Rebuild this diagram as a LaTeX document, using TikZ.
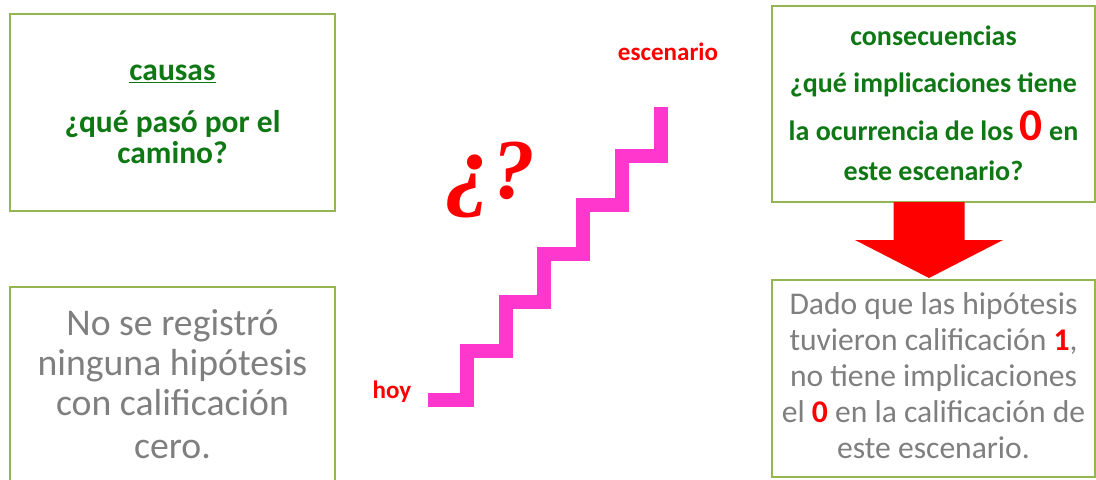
\documentclass[tikz,border=0pt]{standalone}
\usepackage{fontspec}
\setmainfont{Carlito}
\newfontfamily\markfont{Liberation Serif}
\usetikzlibrary{calc}
\definecolor{panelgreen}{RGB}{147,181,82}
\definecolor{textgreen}{RGB}{15,120,20}
\definecolor{textgray}{RGB}{127,127,127}
\definecolor{stairpink}{RGB}{255,55,205}

\begin{document}
\begin{tikzpicture}[x=0.75pt,y=-0.75pt,
  panel/.style={draw=panelgreen,line width=2.2pt,fill=white,outer sep=0pt,inner sep=0pt},
  asktext/.style={text=textgreen,font=\bfseries,align=center,inner sep=0pt},
  saytext/.style={text=textgray,align=center,inner sep=0pt},
  tag/.style={text=red,font=\bfseries\fontsize{18.8}{20}\selectfont,inner sep=0pt}]
  \clip (0,0) rectangle (1096,479);
  % left: causes
  \node[panel,minimum width=243.75pt,minimum height=147.75pt] (causas) at (172.5,112.5) {};
  \node[panel,minimum width=243.75pt,minimum height=156pt] (cero) at (172.5,391) {};
  \node[asktext,anchor=base,font=\bfseries\fontsize{23.6}{23.25}\selectfont] (causastxt) at (172.5,163)
    {\underline{causas}\\[15.75pt]¿qué pasó por el\\camino?};
  \node[saytext,anchor=base,font=\fontsize{28.3}{30}\selectfont] (cerotxt) at (172.5,458)
    {No se registró\\ninguna hipótesis\\con calificación\\[2pt]cero.};
  % middle: stairs
  \draw[stairpink,line width=10.5pt,line join=miter] (428,400)
    \foreach \i in {1,...,6} { -- ++(38.8,0) -- ++(0,-48.8) };
  \node[tag,anchor=base] (hoy) at (392,398) {hoy};
  \node[tag,anchor=base] (escenario) at (668,60) {escenario};
  \node[text=red,font=\markfont\bfseries\itshape\fontsize{64}{64}\selectfont,inner sep=0pt] (duda) at (490,180) {{\fontsize{70}{70}\selectfont¿}?};
  % right: consequences
  \node[panel,minimum width=242.25pt,minimum height=147pt] (conseq) at (933.5,104) {};
  \node[panel,minimum width=242.25pt,minimum height=147.75pt] (dado) at (933.5,378.5) {};
  \node[asktext,anchor=base,font=\bfseries\fontsize{21}{30}\selectfont] (conseqtxt) at (933.5,180)
    {consecuencias\\[5.25pt]¿qué implicaciones tiene\\[6pt]la ocurrencia de los {\color{red}\fontsize{34}{34}\selectfont 0} en\\este escenario?};
  \node[saytext,anchor=base,font=\fontsize{23.7}{27}\selectfont] (dadotxt) at (933.5,458)
    {Dado que las hipótesis\\tuvieron calificación {\color{red}\bfseries 1},\\no tiene implicaciones\\el {\color{red}\bfseries 0} en la calificación de\\este escenario.};
  % block arrow
  \coordinate (atop) at ($(conseq.south)+(-4.5,0)$);
  \coordinate (atip) at ($(dado.north)+(-4.5,-2)$);
  \fill[red] ($(atop)+(-35.5,0)$) -- ($(atop)+(35.5,0)$) -- ($(atop)+(35.5,38)$)
    -- ($(atop)+(74,38)$) -- (atip) -- ($(atop)+(-74,38)$) -- ($(atop)+(-35.5,38)$) -- cycle;
\end{tikzpicture}
\end{document}
